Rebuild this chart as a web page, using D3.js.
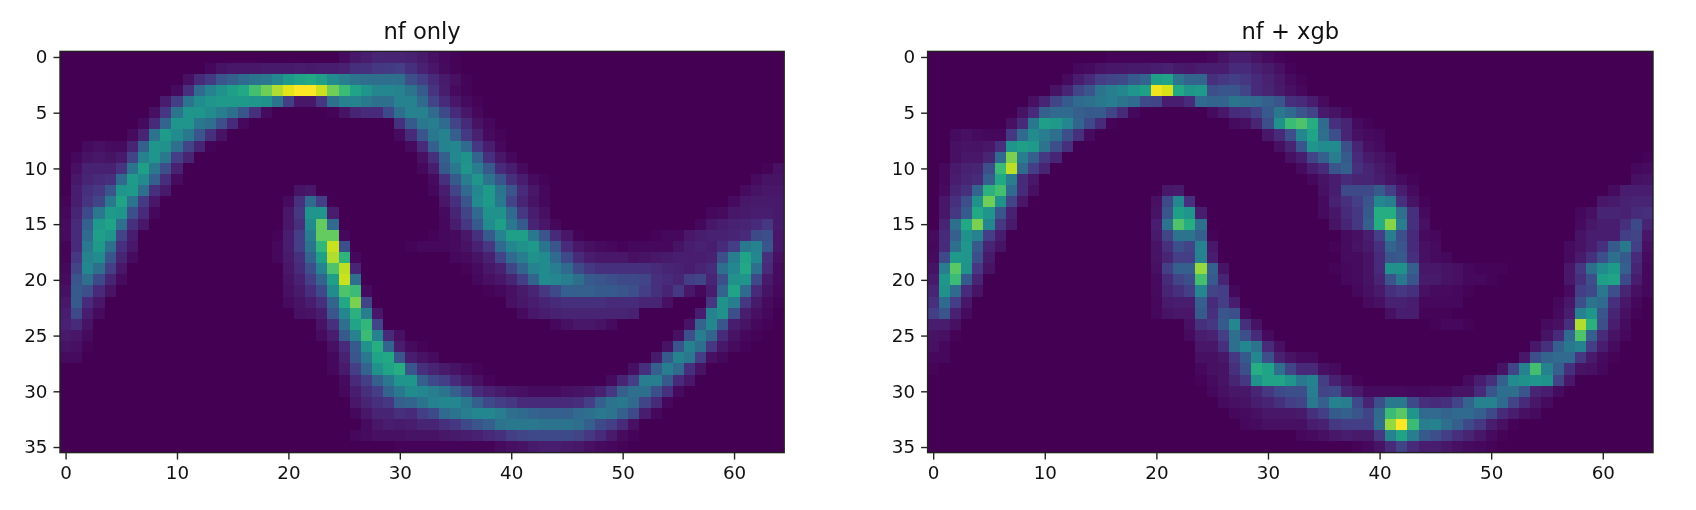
<!DOCTYPE html>
<html><head><meta charset="utf-8">
<script src="https://cdn.jsdelivr.net/npm/d3@7"></script>
<style>
html,body{margin:0;padding:0;background:#fff;overflow:hidden}
svg{display:block;filter:blur(0.7px)}
text{font-family:"DejaVu Sans",sans-serif;fill:#111}
</style></head><body>
<svg id="c" width="1696" height="510"></svg>
<script>
const titles = ["nf only", "nf + xgb"];
const xTicks = [0,10,20,30,40,50,60];
const yTicks = [0,5,10,15,20,25,30,35];
const nCols = 65, nRows = 36;

// Each row lists runs: [first column, value, value, ...]; the rest of the row is 0.
const nfOnly = [
[[25,3,6,8,10,10,10,9,7,4,2,1]],
[[13,2,5,6,6,6,7,7,7,8,7,8,8,9,13,14,16,17,18,14,9,6,3,1]],
[[11,4,12,17,26,30,34,38,40,46,54,58,60,56,48,42,38,36,36,36,36,24,18,12,7,4,1]],
[[10,3,14,34,44,50,56,60,70,78,88,96,100,100,92,78,68,58,52,46,46,44,38,28,15,8,3,1]],
[[9,8,18,38,48,52,54,54,54,52,50,38,18,6,6,16,36,44,44,40,36,36,44,44,34,20,12,6,3,1]],
[[8,4,16,38,52,52,48,42,36,26,14,3],[24,1,5,10,12,12,22,36,44,44,34,22,12,6,2]],
[[7,3,12,32,52,52,40,36,24,12,2],[30,14,28,40,42,34,20,12,5,2]],
[[6,3,10,38,55,48,40,26,14,5],[30,3,12,26,40,44,30,17,9,3,1]],
[[2,3,4,3,3,10,30,52,50,36,20,10,1],[31,3,12,30,44,46,34,16,8,2]],
[[1,2,5,6,5,7,20,44,52,40,18,10],[32,4,14,30,46,50,32,14,6,2]],
[[1,4,9,9,9,15,38,56,40,24,9],[32,2,8,28,40,52,42,28,12,8,3],[63,1,4]],
[[1,6,10,12,14,34,55,48,30,13,3],[33,3,14,28,42,52,38,26,14,8,3,1],[62,3,5,5]],
[[1,8,14,16,26,52,54,36,14,7],[21,5,6],[33,2,8,20,34,46,54,38,26,12,6,2],[61,3,5,6,6]],
[[0,1,8,15,20,40,58,38,17,6],[20,3,14,34,18],[34,6,14,26,48,54,40,20,10,5,2],[60,3,6,7,7,7]],
[[0,2,10,22,40,54,52,24,12,2],[20,6,16,52,52,8],[34,3,10,20,34,50,50,34,16,8,4],[58,2,3,6,7,8,8,7]],
[[0,3,12,30,54,58,36,14,6],[20,6,14,48,76,34],[34,2,8,16,28,48,56,40,28,10,6,2],[57,2,6,8,9,10,12,16,7]],
[[0,3,12,34,56,52,20,8],[19,1,8,18,42,76,76,2],[33,1,2,3,6,14,28,44,56,56,40,26,12,6,1],[53,1,2,2,6,8,9,9,10,12,22,24,6]],
[[0,1,12,40,54,36,14,6],[19,2,8,18,38,66,92,24],[31,1,2,2,2,3,5,9,16,34,46,50,54,38,26,12,6,4,3,2,1,2,2,2,2,5,8,9,8,12,18,40,44,26,6]],
[[0,1,16,44,48,26,10,3],[19,2,7,14,32,56,88,65,2],[35,2,3,5,9,20,34,42,50,48,34,22,12,8,6,6,6,4,5,6,7,8,8,8,9,24,42,58,46,14,4]],
[[0,2,20,46,36,18,6],[20,6,12,24,44,72,90,10],[36,1,3,6,9,20,32,44,48,42,34,22,16,14,14,14,14,14,12,10,9,8,10,12,36,46,60,36,12,3]],
[[0,3,26,36,22,10,3],[20,5,9,18,32,56,92,36],[37,2,4,6,10,18,32,48,46,42,36,28,26,24,22,22,20,14,12,10,18,20,10,24,50,52,22,7,3]],
[[0,4,28,24,12,5],[20,4,7,13,22,48,72,68,3],[38,1,2,4,7,10,16,22,30,30,30,28,28,26,24,18,14,10,16,6,2,8,32,58,34,12,5,2]],
[[0,6,28,12,6],[20,3,5,8,14,32,60,80,20],[40,4,6,8,10,12,14,14,14,14,12,12,12,10,10,4],[58,16,50,42,16,7,3,1]],
[[0,8,22,8,3],[21,4,5,8,26,46,64,42,6],[41,3,6,8,9,10,10,10,10,10,10,9],[57,8,44,50,24,8,4,2]],
[[0,9,12,5],[23,5,14,36,58,66,20],[44,2,4,6,6,5,3],[56,5,32,46,26,8,5,2,1]],
[[0,7,6,3],[23,3,8,28,44,68,44,12,4],[55,4,24,42,32,12,5,2,1]],
[[0,5,4,1],[24,4,12,28,50,62,32,8,3,1],[54,5,26,44,36,16,6,3,1]],
[[0,3,3],[24,2,9,26,40,58,60,26,8,5,3],[53,7,28,44,40,18,4,2]],
[[24,2,7,18,32,50,58,62,26,14,10,7,5,3,1],[51,4,14,30,42,34,14,5]],
[[25,3,12,18,30,40,52,52,30,22,18,12,7,4,1],[49,3,10,18,42,42,28,12,6]],
[[25,2,8,14,18,32,40,48,46,42,38,30,22,12,9,7,5,4,3,3,3,4,5,6,9,16,30,36,36,24,14,3]],
[[26,6,10,14,16,30,32,38,44,46,46,40,30,22,18,16,12,12,12,12,12,13,18,30,38,40,34,20,12,2]],
[[26,2,6,10,10,14,12,18,22,34,38,42,46,46,42,36,34,32,30,30,30,34,36,40,38,30,22,8,2]],
[[27,3,6,8,7,8,10,10,14,16,22,26,30,38,40,40,40,38,38,38,36,30,22,18,12,4]],
[[26,2,3,4,4,4,5,5,5,6,7,8,9,11,14,18,20,22,22,22,22,20,16,12,7,3,1]],
[[30,1,1,1,1,1,1,1,1,1,3,4,5,7,8,8,7,6,4,3,2,1]]
];

const nfXgb = [
[[16,1,1,1,1,1,1,1,1,1,2,5,8,8,5,3,1]],
[[13,2,3,5,6,6,7,7,8,9,7,6,8,8,8,12,12,9,7,4,1]],
[[12,3,8,12,18,20,22,28,32,56,58,38,32,32,14,16,18,16,12,9,6,3,1]],
[[11,5,10,20,26,38,42,46,52,56,98,94,60,52,54,24,26,26,20,12,10,7,4,2]],
[[9,4,10,20,28,34,36,40,42,38,34,22,20,8,8,12,34,32,32,38,36,34,30,26,14,12,8,3]],
[[8,5,12,30,34,34,30,28,28,20,12,2],[25,3,6,12,14,18,28,40,34,26,20,7,5,2]],
[[7,4,12,40,56,54,46,32,22,12,1],[27,3,4,10,24,50,68,72,62,34,14,10,3,1]],
[[2,3,4,3,2,2,16,34,48,42,36,24,14,3],[30,6,12,24,46,58,36,24,10,4,3,2]],
[[2,4,5,5,6,14,52,56,54,38,24,14],[31,4,10,26,52,48,48,24,10,4,3]],
[[2,4,6,6,10,34,80,42,30,16,10],[32,4,8,20,30,42,28,12,7,5,3],[64,1]],
[[1,2,7,9,10,24,68,90,34,18,10],[33,3,8,12,26,30,14,10,7,4],[63,2,3]],
[[1,2,8,10,12,30,60,42,12,6],[34,2,5,8,12,10,10,8,5,3,1],[63,4,5]],
[[1,3,10,14,32,64,70,34,12,4],[21,6,7],[35,4,8,22,22,22,28,18,8,3],[61,3,8,8,8]],
[[1,6,14,24,50,78,50,20,6],[20,4,22,46,14],[35,3,9,14,18,26,46,42,14,5,1],[60,6,7,9,10,10]],
[[1,6,16,28,60,52,26,9],[20,5,26,56,52,8],[35,3,6,12,16,28,62,62,36,14,3],[58,2,4,10,10,9,12,14]],
[[1,10,36,60,80,46,16,7],[20,8,38,72,62,36],[36,5,10,16,30,62,82,42,14,4],[58,3,6,8,8,14,22,10]],
[[0,3,12,30,50,44,18,8],[20,7,20,38,38,30,1],[37,3,4,8,18,42,24,12,3,2],[58,5,8,8,8,18,20,6]],
[[0,2,12,36,52,28,10,5],[20,5,14,24,20,44,6],[36,1,3,5,7,14,32,26,12,4,3],[57,3,5,8,14,28,40,18,4]],
[[0,3,22,54,52,24,7],[20,5,10,18,18,44,8],[37,3,3,5,12,26,28,14,4,3,2],[57,3,7,14,24,36,28,12,3]],
[[0,5,42,74,50,16,5],[20,4,18,30,30,84,30,5],[36,1,2,3,5,12,50,50,30,6,6,5,4,2,1,1,1],[57,6,16,36,48,54,30,10,2]],
[[0,7,52,68,28,10],[20,3,12,20,24,70,28,10],[37,2,3,5,10,26,40,26,7,7,5,4,2,2,1],[57,6,14,24,56,58,22,8,2]],
[[0,10,50,34,12,5],[20,3,10,14,18,46,20,18,2],[38,2,4,7,14,16,14,4,3,3,2,1],[57,3,18,22,40,24,10,4,2]],
[[0,14,34,18,6],[20,2,7,8,8,30,12,18,8],[39,3,4,9,9,8,2,2,2,2],[56,2,6,24,38,34,14,6,2]],
[[0,18,26,9,3],[20,2,5,6,6,28,14,26,24,3],[41,4,8,8,1,1,1],[56,3,8,44,52,26,10,4,1]],
[[0,8,8,4],[23,4,14,16,28,46,14,5],[45,1,2,2,1],[55,3,4,14,88,64,24,8,3]],
[[0,5,4,1],[23,3,8,9,18,36,24,12,3],[55,5,12,34,72,30,12,5,2]],
[[0,4,2],[24,6,6,14,36,46,38,12,4],[54,6,14,30,40,44,18,8,3]],
[[0,2,2],[24,4,4,6,16,28,46,24,9,5,3,3],[53,6,24,32,34,34,16,7,3,1]],
[[0,1],[24,2,4,5,14,24,62,58,36,20,11,11,4,3],[51,5,20,44,70,44,30,14,5,4,2]],
[[24,1,3,5,10,16,50,58,58,52,40,44,18,9,5,1],[48,3,8,14,30,48,50,52,50,20,6]],
[[25,2,4,6,6,10,16,22,24,24,42,20,22,10,7,3,3,3,3,2,2,3,3,5,5,12,26,36,36,26,10,8,3]],
[[26,3,4,5,8,10,14,18,20,40,30,44,42,22,10,24,40,40,22,14,12,14,20,32,44,44,34,20,12,6,3]],
[[27,2,3,4,6,6,6,7,14,18,28,30,26,20,34,68,74,52,34,34,32,34,34,30,22,12,8,4,3]],
[[28,2,3,4,4,4,4,8,9,16,18,18,18,36,84,100,68,42,44,36,30,22,16,8,4,1]],
[[33,2,3,4,6,8,7,7,16,44,58,42,28,24,18,14,10,6,3,1]],
[[38,1,2,5,12,20,12,8,8,6,4,3,2,1]]
];

const svg = d3.select("#c");
const color = d3.scaleSequential(d3.interpolateViridis).domain([0,100]);

function cells(rows){
  const out = [];
  rows.forEach((runs,r)=>{
    const line = new Array(nCols).fill(0);
    runs.forEach(run=>run.slice(1).forEach((v,i)=>{ line[run[0]+i]=v; }));
    line.forEach((v,c)=>out.push({r,c,v}));
  });
  return out;
}

function panel(rows,title,left,right){
  const top = 51.4, bottom = 452.6;
  const x = d3.scaleLinear().domain([-0.5,nCols-0.5]).range([left,right]);
  const y = d3.scaleLinear().domain([-0.5,nRows-0.5]).range([top,bottom]);
  const px = v=>Math.round(x(v)), py = v=>Math.round(y(v));
  const g = svg.append("g");
  g.append("g").attr("shape-rendering","crispEdges").selectAll("rect").data(cells(rows)).join("rect")
    .attr("x",d=>px(d.c-0.5)).attr("y",d=>py(d.r-0.5))
    .attr("width",d=>px(d.c+0.5)-px(d.c-0.5)).attr("height",d=>py(d.r+0.5)-py(d.r-0.5))
    .attr("fill",d=>color(d.v));
  g.append("rect").attr("x",left).attr("y",top).attr("width",right-left).attr("height",bottom-top)
    .attr("fill","none").attr("stroke","#222").attr("stroke-width",1.4);
  const ax = g.append("g").attr("transform",`translate(0,${bottom})`)
    .call(d3.axisBottom(x).tickValues(xTicks).tickSize(7).tickPadding(6));
  const ay = g.append("g").attr("transform",`translate(${left},0)`)
    .call(d3.axisLeft(y).tickValues(yTicks).tickSize(6.5).tickPadding(6));
  [ax,ay].forEach(a=>{
    a.select(".domain").remove();
    a.selectAll("line").attr("stroke","#222").attr("stroke-width",1.4);
    a.selectAll("text").attr("font-size",18.3).attr("fill","#111").style("font-family",'"DejaVu Sans",sans-serif');
  });
  g.append("text").attr("x",(left+right)/2).attr("y",39).attr("text-anchor","middle")
    .attr("font-size",22.6).text(title);
}
panel(nfOnly,titles[0],60,784.2);
panel(nfXgb,titles[1],927.6,1653);
</script>
</body></html>
